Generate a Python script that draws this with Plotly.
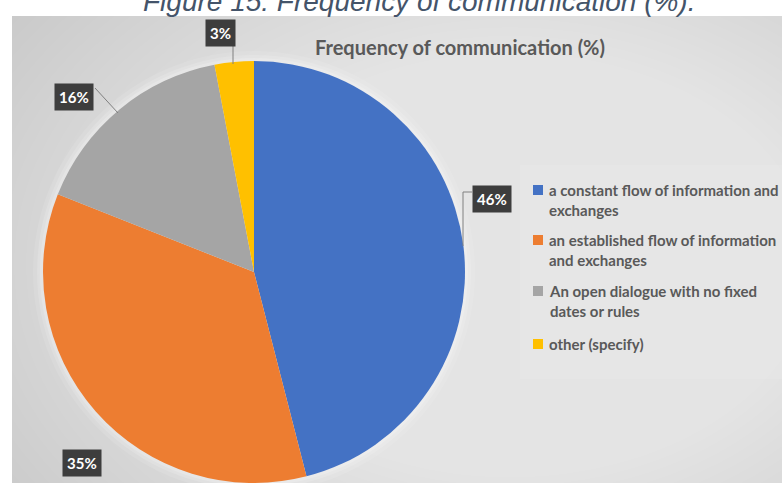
import textwrap
import plotly.graph_objects as go

# Survey answers and their shares (%)
categories = [
    "a constant flow of information and exchanges",
    "an established flow of information and exchanges",
    "An open dialogue with no fixed dates or rules",
    "other (specify)",
]
shares = [46, 35, 16, 3]
slice_colors = ["#4472C4", "#ED7D31", "#A5A5A5", "#FFC000"]

W, H = 782, 483


def px(x):
    return x / W


def py(y):
    return 1 - y / H


wrapped = ["<br>".join(textwrap.wrap(c, 34)) for c in categories]

fig = go.Figure(
    go.Pie(
        labels=categories,
        values=shares,
        marker=dict(colors=slice_colors, line=dict(width=0)),
        sort=False,
        direction="clockwise",
        rotation=0,
        textinfo="none",
        hoverinfo="label+percent",
        showlegend=False,
        domain=dict(x=[px(43), px(465)], y=[0, py(61)]),
    )
)

shapes = []
# panel background with a soft radial light
shapes.append(dict(type="rect", xref="paper", yref="paper",
                   x0=px(12), x1=1, y0=0, y1=py(16),
                   fillcolor="#c6c6c6", line=dict(width=0), layer="below"))
cx, cy = 510, 265
n = 52
for i in range(n):
    rx = 640 - i * 12
    ry = rx * 0.7
    shapes.append(dict(type="circle", xref="paper", yref="paper",
                       x0=px(cx - rx), x1=px(cx + rx),
                       y0=py(cy + ry), y1=py(cy - ry),
                       fillcolor="white", opacity=0.034,
                       line=dict(width=0), layer="below"))
# keep the page margin around the panel white
shapes.append(dict(type="rect", xref="paper", yref="paper",
                   x0=-0.5, x1=1.5, y0=py(16), y1=1.5,
                   fillcolor="white", line=dict(width=0), layer="below"))
shapes.append(dict(type="rect", xref="paper", yref="paper",
                   x0=-0.5, x1=px(12), y0=-0.5, y1=1.5,
                   fillcolor="white", line=dict(width=0), layer="below"))
shapes.append(dict(type="rect", xref="paper", yref="paper",
                   x0=-0.5, x1=1.5, y0=-0.5, y1=0,
                   fillcolor="white", line=dict(width=0), layer="below"))
# lighter legend panel
shapes.append(dict(type="rect", xref="paper", yref="paper",
                   x0=px(520), x1=1, y0=py(379), y1=py(165),
                   fillcolor="white", opacity=0.10, line=dict(width=0), layer="below"))
# glow around the pie
for grow, op in [(10, 0.10), (6, 0.14), (3, 0.18)]:
    shapes.append(dict(type="circle", xref="paper", yref="paper",
                       x0=px(43 - grow), x1=px(465 + grow),
                       y0=py(483 + grow), y1=py(61 - grow),
                       fillcolor="white", opacity=op, line=dict(width=0), layer="below"))

# leader lines to the value boxes
lead = dict(color="#808080", width=1)
shapes.append(dict(type="line", xref="paper", yref="paper",
                   x0=px(233), x1=px(233), y0=py(46), y1=py(64), line=lead))
shapes.append(dict(type="line", xref="paper", yref="paper",
                   x0=px(95), x1=px(118), y0=py(88), y1=py(113), line=lead))
shapes.append(dict(type="path", xref="paper", yref="paper",
                   path=f"M {px(472)},{py(192)} L {px(463)},{py(192)} L {px(463)},{py(246)}",
                   line=lead))

annotations = [
    dict(text="Figure 15: Frequency of communication (%).", x=px(419), y=py(2),
         xref="paper", yref="paper", showarrow=False, xanchor="center", yanchor="middle",
         font=dict(family="Liberation Sans", size=28, color="#44546A", style="italic")),
    dict(text="Frequency of communication (%)", x=px(460), y=py(47),
         xref="paper", yref="paper", showarrow=False, xanchor="center", yanchor="middle",
         font=dict(family="Lato", size=20, color="#595959", weight="bold")),
]

# value boxes placed beside each slice
box_pos = [(492, 199), (82, 463), (74, 97), (220, 33)]
for v, (bx, by) in zip(shares, box_pos):
    annotations.append(dict(
        text=f"{v}%", x=px(bx), y=py(by), xref="paper", yref="paper",
        showarrow=False, xanchor="center", yanchor="middle",
        bgcolor="#3d3d3d", borderpad=4,
        font=dict(family="Lato", size=15, color="white", weight="bold"),
    ))

# legend: colour swatch plus wrapped category text
legend_rows = [190, 240, 291, 344]
line_h = 20
for label, col, ry in zip(wrapped, slice_colors, legend_rows):
    shapes.append(dict(type="rect", xref="paper", yref="paper",
                       x0=px(533), x1=px(543), y0=py(ry + 5), y1=py(ry - 5),
                       fillcolor=col, line=dict(width=0)))
    nlines = label.count("<br>") + 1
    annotations.append(dict(
        text=label, x=px(547), y=py(ry + (nlines - 1) * line_h / 2),
        xref="paper", yref="paper", showarrow=False,
        xanchor="left", yanchor="middle", align="left",
        font=dict(family="Lato", size=15, color="#595959", weight="bold"),
    ))

fig.update_layout(
    width=W, height=H,
    margin=dict(l=0, r=0, t=0, b=0),
    paper_bgcolor="white",
    plot_bgcolor="white",
    shapes=shapes,
    annotations=annotations,
)

fig.write_html("out.html")
